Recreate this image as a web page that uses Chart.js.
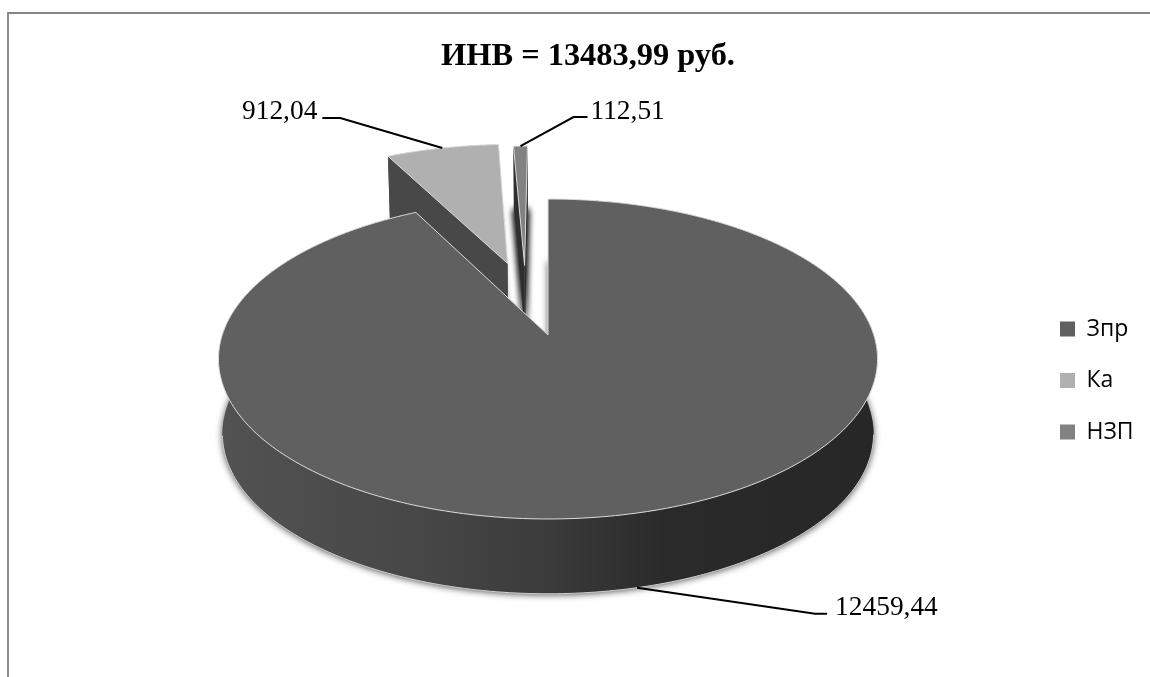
<!DOCTYPE html>
<html lang="ru">
<head>
<meta charset="utf-8">
<title>ИНВ</title>
<script src="https://cdn.jsdelivr.net/npm/chart.js@4/dist/chart.umd.js"></script>
<style>
  html, body { margin: 0; padding: 0; width: 1150px; height: 677px; overflow: hidden; background: #fff; }
  #frame { position: absolute; left: 7px; top: 12px; width: 1158px; height: 663px;
           border-top: 2px solid #868686; border-left: 2px solid #8c8c8c; }
  canvas { display: block; }
</style>
</head>
<body>
<div id="frame"><canvas id="chart" width="1158" height="663"></canvas></div>
<script>
// Chart data
const chartTitle = 'ИНВ = 13483,99 руб.';
const categories = ['Зпр', 'Ка', 'НЗП'];
const values = [12459.44, 912.04, 112.51];

// Slice styling
const topColors = ['#606060', '#b0b0b0', '#828282'];
const explode = [0, 166, 155];
const sideNudge = [0, 0, -21];
const shadowPasses = [1, 1, 3];
const wallStops = [
  [[0, '#525252'], [0.3, '#474747'], [0.5, '#3b3b3b'], [0.68, '#2a2a2a'], [1, '#272727']],
  [[0, '#484848'], [1, '#484848']],
  [[0, '#2e2e2e'], [1, '#2e2e2e']]
];

// Leader line layout, relative to the rim point at each slice's middle angle
const leaders = [
  { knee: [178, 26], end: [190, 26], text: [198, 27], align: 'left' },
  { knee: [-102, -30], end: [-120, -30], text: [-125, -29], align: 'right' },
  { knee: [53, -29], end: [67, -29], text: [70, -27], align: 'left' }
];

// Perspective of the tilted disc
const TILT = 0.48;
const PERSPECTIVE = 0.15;
const BASE_SCALE = 0.988;

class Arc3D extends Chart.ArcElement {
  static id = 'arc3d';

  // Projects an angle on the slice's rim (or its apex when onRim is false) to the canvas
  project(angle, onRim, lower) {
    const R = this.outerRadius;
    const i = this.$context.dataIndex;
    const mid = (this.startAngle + this.endAngle) / 2;
    const off = this.options.offset || 0;
    const r = onRim ? R : 0;
    const u = (r * Math.cos(angle) + off * Math.cos(mid) + sideNudge[i]) / R;
    const v = (r * Math.sin(angle) + off * Math.sin(mid)) / R;
    const d = 1 - PERSPECTIVE * v;
    const s = lower ? BASE_SCALE : 1;
    const h = !lower ? 0 : v >= 0 ? 75 + 2 * v : Math.max(60, 75 + 15 * v);
    return { x: this.x + s * R * u / d, y: this.y + h + s * R * TILT * v / d };
  }

  rimAngles() {
    const n = Math.max(2, Math.ceil((this.endAngle - this.startAngle) / (Math.PI / 180)));
    const out = [];
    for (let k = 0; k <= n; k++) out.push(this.startAngle + (this.endAngle - this.startAngle) * k / n);
    return out;
  }

  sectorPath(ctx, lower) {
    ctx.beginPath();
    const apex = this.project(0, false, lower);
    ctx.moveTo(apex.x, apex.y);
    for (const a of this.rimAngles()) {
      const p = this.project(a, true, lower);
      ctx.lineTo(p.x, p.y);
    }
    ctx.closePath();
  }

  wallFill(ctx) {
    const stops = wallStops[this.$context.dataIndex];
    const g = ctx.createLinearGradient(this.x - this.outerRadius, 0, this.x + this.outerRadius, 0);
    stops.forEach(([pos, color]) => g.addColorStop(pos, color));
    return g;
  }

  // Rim point a label's leader line attaches to
  labelAnchor() {
    const mid = (this.startAngle + this.endAngle) / 2;
    const front = Math.sin(mid) > 0;
    return this.project(mid, true, front);
  }

  draw(ctx) {
    const angles = this.rimAngles();
    const walls = this.wallFill(ctx);
    ctx.save();

    // Soft shadow under the base
    ctx.save();
    ctx.shadowColor = 'rgba(0,0,0,0.7)';
    ctx.shadowBlur = 7;
    ctx.shadowOffsetY = 1;
    ctx.fillStyle = '#777';
    this.sectorPath(ctx, true);
    for (let pass = 0; pass < shadowPasses[this.$context.dataIndex]; pass++) ctx.fill();
    ctx.restore();

    // Outer rim wall
    ctx.fillStyle = walls;
    ctx.beginPath();
    angles.forEach((a, k) => {
      const p = this.project(a, true, false);
      if (k) ctx.lineTo(p.x, p.y); else ctx.moveTo(p.x, p.y);
    });
    for (let k = angles.length - 1; k >= 0; k--) {
      const p = this.project(angles[k], true, true);
      ctx.lineTo(p.x, p.y);
    }
    ctx.closePath();
    ctx.fill();

    // Radial cut walls
    for (const a of [this.startAngle, this.endAngle]) {
      const p0 = this.project(a, true, false);
      const p1 = this.project(a, true, true);
      const c1 = this.project(a, false, true);
      const c0 = this.project(a, false, false);
      ctx.beginPath();
      ctx.moveTo(p0.x, p0.y);
      ctx.lineTo(p1.x, p1.y);
      ctx.lineTo(c1.x, c1.y);
      ctx.lineTo(c0.x, c0.y);
      ctx.closePath();
      ctx.fill();
    }

    // Pale line along the visible lower edge
    ctx.strokeStyle = '#cfcfcf';
    ctx.lineWidth = 1;
    ctx.beginPath();
    let open = false;
    for (const a of angles) {
      const visible = Math.sin(a) > PERSPECTIVE;
      const p = this.project(a, true, true);
      if (visible && open) ctx.lineTo(p.x, p.y);
      else if (visible) { ctx.moveTo(p.x, p.y); open = true; }
      else open = false;
    }
    ctx.stroke();

    // Top face
    ctx.fillStyle = this.options.backgroundColor;
    ctx.strokeStyle = 'rgba(226,226,226,0.95)';
    ctx.lineWidth = 1;
    ctx.lineJoin = 'round';
    this.sectorPath(ctx, false);
    ctx.fill();
    ctx.stroke();
    ctx.restore();
  }
}

class Pie3DController extends Chart.PieController {
  static id = 'pie3d';
  static defaults = { dataElementType: 'arc3d' };

  // Back slices first, so the big front slice covers their bases
  draw() {
    const ctx = this.chart.ctx;
    const arcs = this._cachedMeta.data;
    for (let i = arcs.length - 1; i >= 0; i--) arcs[i].draw(ctx);
  }
}

Chart.register(Arc3D, Pie3DController);

const formatValue = v => v.toFixed(2).replace('.', ',');

// Value labels with black leader lines
const leaderLabels = {
  id: 'leaderLabels',
  afterDatasetsDraw(chart) {
    const ctx = chart.ctx;
    const meta = chart.getDatasetMeta(0);
    ctx.save();
    ctx.strokeStyle = '#000';
    ctx.lineWidth = 2;
    ctx.fillStyle = '#000';
    ctx.font = '27.4px "Liberation Serif"';
    ctx.textBaseline = 'alphabetic';
    meta.data.forEach((arc, i) => {
      const a = arc.labelAnchor();
      const l = leaders[i];
      ctx.beginPath();
      ctx.moveTo(a.x, a.y);
      ctx.lineTo(a.x + l.knee[0], a.y + l.knee[1]);
      ctx.lineTo(a.x + l.end[0], a.y + l.end[1]);
      ctx.stroke();
      ctx.textAlign = l.align;
      ctx.fillText(formatValue(values[i]), a.x + l.text[0], a.y + l.text[1]);
    });
    ctx.restore();
  }
};

// Title centred on the whole frame, legend beside the disc
const boxPlacement = {
  id: 'boxPlacement',
  afterLayout(chart) {
    const title = chart.titleBlock;
    title.left = 0;
    title.right = chart.width;
    const legend = chart.legend;
    const pad = legend.options.labels.padding;
    legend.left = 1051 - pad;
    legend.right = chart.width;
    legend.top = 275;
    legend.bottom = chart.height;
  }
};

new Chart(document.getElementById('chart'), {
  type: 'pie3d',
  data: {
    labels: categories,
    datasets: [{
      data: values,
      backgroundColor: topColors,
      offset: explode,
      borderWidth: 0,
      radius: 325.8
    }]
  },
  plugins: [leaderLabels, boxPlacement],
  options: {
    responsive: false,
    animation: false,
    layout: { padding: { right: 80, bottom: 85.4 } },
    plugins: {
      title: {
        display: true,
        text: chartTitle,
        color: '#000',
        font: { family: '"Liberation Serif"', size: 32.4, weight: 'bold' },
        padding: { top: 23.6, bottom: 1.9 }
      },
      legend: {
        position: 'chartArea',
        align: 'start',
        labels: {
          boxWidth: 15,
          boxHeight: 15,
          padding: 28.5,
          color: '#000',
          font: { family: '"Open Sans"', size: 23 }
        }
      },
      tooltip: { enabled: false }
    }
  }
});
</script>
</body>
</html>
